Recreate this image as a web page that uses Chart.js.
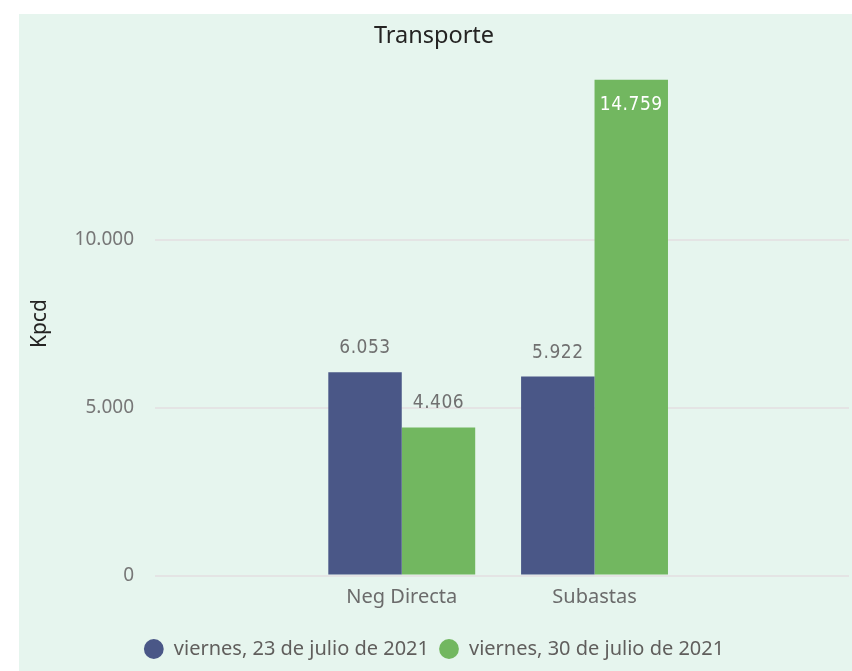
<!DOCTYPE html>
<html lang="es">
<head>
  <meta charset="UTF-8">
  <title>Transporte</title>
  <script src="https://cdn.jsdelivr.net/npm/chart.js"></script>
  <style>
    html, body { margin: 0; padding: 0; background: #ffffff; overflow: hidden; }
    /* mint panel behind the chart */
    .panel { position: absolute; left: 19px; top: 14px; width: 833px; height: 657px; background: #e6f5ee; overflow: hidden; }
    canvas { display: block; }
  </style>
</head>
<body>

<div class="panel">
  <canvas id="transporteChart" width="833" height="655"></canvas>
</div>

<script>
  // Data
  const categories = ['Neg Directa', 'Subastas'];
  const seriesNames = ['viernes, 23 de julio de 2021', 'viernes, 30 de julio de 2021'];
  const values23Jul = [6053, 5922];
  const values30Jul = [4406, 14759];
  const yTicks = [0, 5000, 10000];

  const seriesColors = ['#4a5787', '#72b760'];
  const fontFamily = "'Noto Sans', sans-serif";

  // 10000 -> "10.000"
  function fmt(v) {
    return String(v).replace(/\B(?=(\d{3})+(?!\d))/g, '.');
  }

  // value labels on top of (or inside) the bars
  const valueLabels = {
    id: 'valueLabels',
    afterDatasetsDraw(chart) {
      const ctx = chart.ctx;
      ctx.save();
      ctx.font = "19px 'DejaVu Sans Condensed', sans-serif";
      ctx.letterSpacing = '0.5px';
      ctx.textAlign = 'center';
      ctx.textBaseline = 'middle';
      chart.data.datasets.forEach((ds, i) => {
        chart.getDatasetMeta(i).data.forEach((bar, j) => {
          const inside = bar.y - 45 < chart.chartArea.top;
          ctx.fillStyle = inside ? '#ffffff' : '#707070';
          ctx.fillText(fmt(ds.data[j].y), bar.x, inside ? bar.y + 25 : bar.y - 24);
        });
      });
      ctx.restore();
    }
  };

  const ctx = document.getElementById('transporteChart').getContext('2d');
  const transporteChart = new Chart(ctx, {
    type: 'bar',
    data: {
      datasets: [
        {
          label: seriesNames[0],
          data: values23Jul.map((v, i) => ({ x: i + 1, y: v })),
          backgroundColor: seriesColors[0]
        },
        {
          label: seriesNames[1],
          data: values30Jul.map((v, i) => ({ x: i + 1, y: v })),
          backgroundColor: seriesColors[1]
        }
      ]
    },
    options: {
      responsive: false,
      animation: false,
      devicePixelRatio: 1,
      layout: { padding: { left: 0, right: 3, top: 0, bottom: 0 } },
      datasets: {
        bar: { categoryPercentage: 0.762, barPercentage: 1, borderWidth: 0 }
      },
      scales: {
        x: {
          type: 'linear',
          min: -0.28,
          max: 3.32,
          offset: false,
          grid: { display: false, drawTicks: false },
          border: { display: false },
          afterBuildTicks: (scale) => { scale.ticks = categories.map((c, i) => ({ value: i + 1 })); },
          afterFit: (scale) => { scale.height = 53.4; },
          ticks: {
            padding: 10,
            maxRotation: 0,
            autoSkip: false,
            color: '#6b6b6b',
            font: { family: fontFamily, size: 20 },
            callback: (v) => categories[v - 1] || ''
          }
        },
        y: {
          min: 0,
          max: 15000,
          afterBuildTicks: (scale) => { scale.ticks = yTicks.map(v => ({ value: v })); },
          afterFit: (scale) => { scale.width = 136; },
          grid: { color: '#e4e4e4', lineWidth: 2, drawTicks: false },
          border: { display: false },
          ticks: {
            padding: 21,
            color: '#777777',
            font: { family: fontFamily, size: 19 },
            callback: (v) => fmt(v)
          },
          title: {
            display: true,
            text: 'Kpcd',
            color: '#252423',
            font: { family: fontFamily, size: 21 },
            padding: { top: 8.4, bottom: 0 }
          }
        }
      },
      plugins: {
        title: {
          display: true,
          text: 'Transporte',
          color: '#252423',
          font: { family: fontFamily, size: 23.5, weight: 'normal' },
          padding: { top: 8, bottom: 21.4 }
        },
        legend: {
          position: 'bottom',
          labels: {
            usePointStyle: true,
            pointStyle: 'circle',
            boxHeight: 14,
            padding: 10,
            color: '#605e5c',
            font: { family: fontFamily, size: 20 }
          }
        },
        tooltip: { enabled: false }
      }
    },
    plugins: [valueLabels]
  });
</script>
</body>
</html>
